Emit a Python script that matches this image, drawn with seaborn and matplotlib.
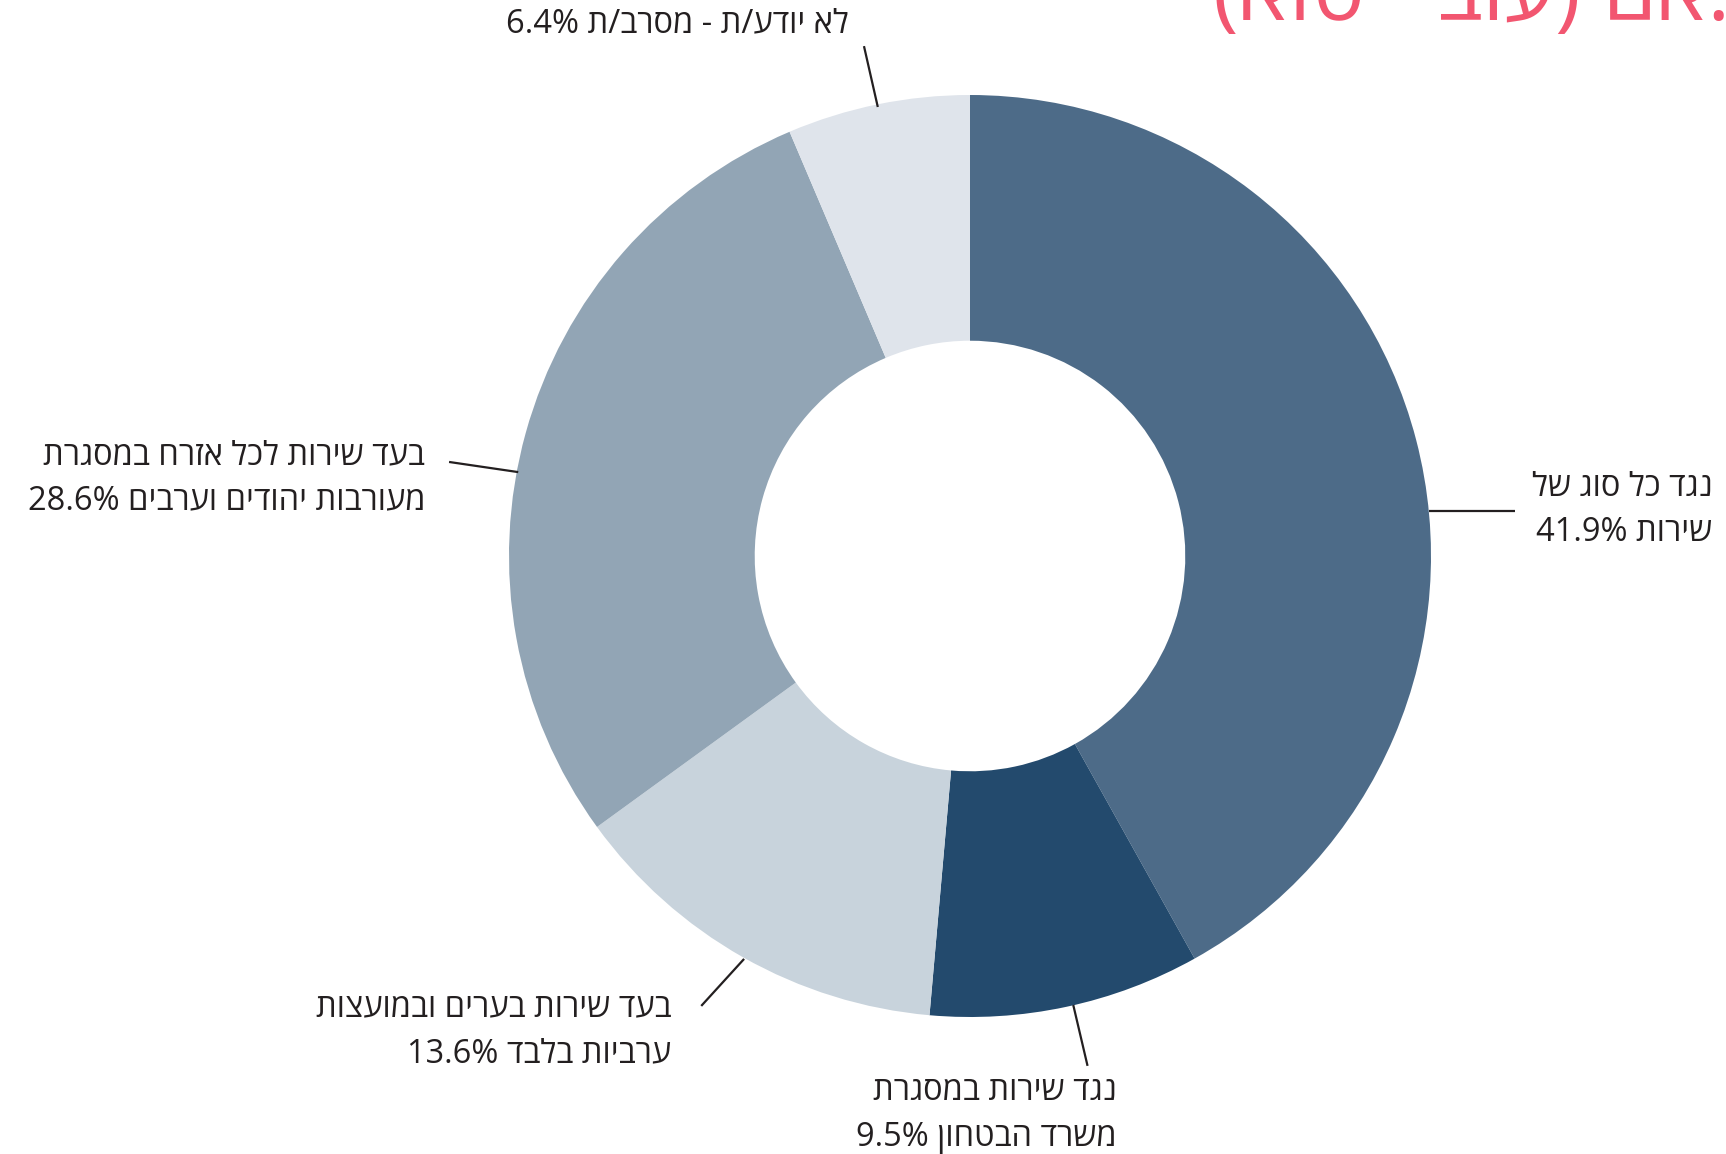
import numpy as np
import matplotlib
matplotlib.use("Agg")
import matplotlib.pyplot as plt
import seaborn as sns

# data (clockwise from 12 o'clock)
categories = [
    "נגד כל סוג של\nשירות",
    "נגד שירות במסגרת\nמשרד הבטחון",
    "בעד שירות בערים ובמועצות\nערביות בלבד",
    "בעד שירות לכל אזרח במסגרת\nמעורבות יהודים וערבים",
    "לא יודע/ת - מסרב/ת",
]
values = [41.9, 9.5, 13.6, 28.6, 6.4]
colors = ["#4d6b88", "#234a6d", "#c8d3dc", "#92a5b5", "#dfe4eb"]

# label layout in axis units (pie radius = 1): text anchor (right edge, centre) and leader segment
label_pos = [(1.61, 0.10), (0.318, -1.212), (-0.648, -1.03), (-1.182, 0.168), (-0.262, 1.154)]
leaders = [
    [(0.996, 0.098), (1.182, 0.098)],
    [(0.224, -0.974), (0.255, -1.106)],
    [(-0.490, -0.874), (-0.583, -0.976)],
    [(-0.980, 0.182), (-1.130, 0.204)],
    [(-0.200, 0.974), (-0.230, 1.106)],
]

title_fragment = "(אוט - בוע) םא."


def rtl(s):
    # matplotlib has no bidi support, so put hebrew into visual order by hand
    lines = []
    for line in s.split("\n"):
        words = []
        for w in line.split(" ")[::-1]:
            if any("\u0590" <= c <= "\u05ff" for c in w):
                w = w[::-1]
            words.append(w)
        lines.append(" ".join(words))
    return "\n".join(lines)


sns.set_theme(style="white")
plt.rcParams["font.family"] = ["Open Sans", "DejaVu Sans"]

fig = plt.figure(figsize=(17.26, 11.54), dpi=100)
ax = fig.add_axes([0, 0, 1, 1])

ax.pie(values, colors=sns.color_palette(colors), startangle=90, counterclock=False,
       radius=1.0, wedgeprops=dict(width=0.533, linewidth=0))

# pie() resets the limits, so set them afterwards (461 px per unit, centre at 970,556)
ax.set_aspect("auto")
ax.set_xlim(-970 / 461, (1726 - 970) / 461)
ax.set_ylim(-(1154 - 556) / 461, 556 / 461)
ax.axis("off")

for cat, val, (tx, ty), seg in zip(categories, values, label_pos, leaders):
    lines = cat.split("\n")
    lines[-1] = lines[-1] + f" {val}%"
    ax.text(tx, ty, rtl("\n".join(lines)), ha="right", va="center", multialignment="right",
            fontsize=23.5, color="#231f20", linespacing=1.5)
    xs, ys = zip(*seg)
    ax.plot(xs, ys, color="#231f20", lw=1.6, solid_capstyle="butt")

# red heading, cut off by the top edge of the image
ax.text((1213 - 970) / 461, (556 - 20) / 461, title_fragment, ha="left", va="baseline",
        fontsize=62, color="#f25670", clip_on=False)

fig.savefig("out.png", dpi=100)
